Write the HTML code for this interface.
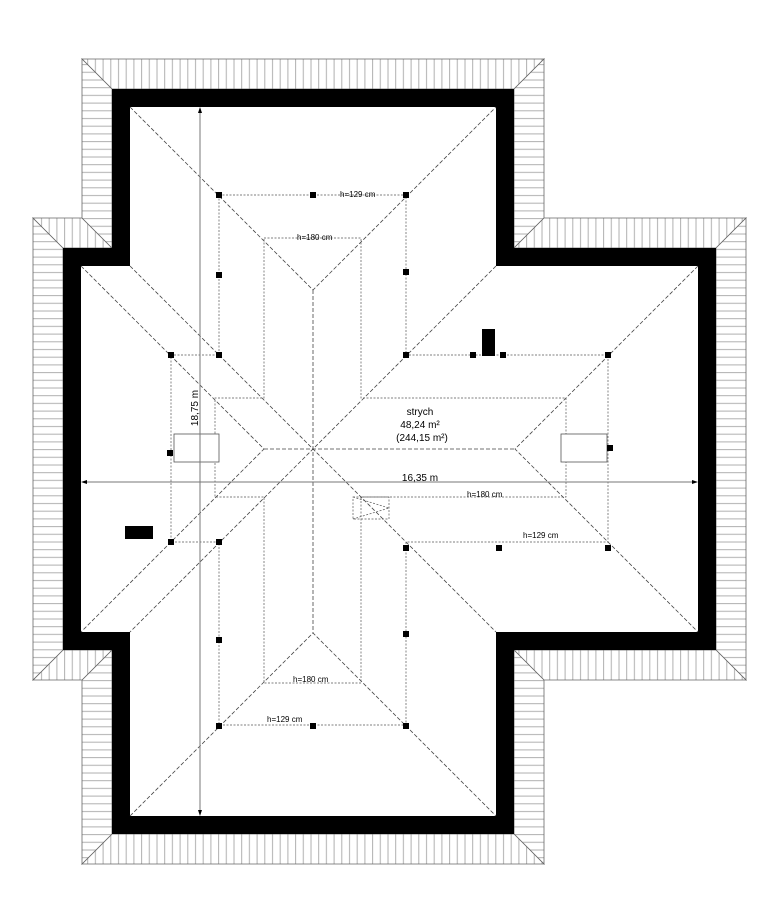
<!DOCTYPE html>
<html><head><meta charset="utf-8"><style>
html,body{margin:0;padding:0;background:#fff}
svg{display:block}
text{font-family:"Liberation Sans",sans-serif;fill:#000}
</style></head><body>
<svg width="781" height="922" viewBox="0 0 781 922" xmlns="http://www.w3.org/2000/svg">
<defs>
<pattern id="pv" width="7.7" height="10" patternUnits="userSpaceOnUse"><rect width="7.7" height="10" fill="#fff"/><line x1="3" y1="0" x2="3" y2="10" stroke="#b0b0b0" stroke-width="1"/></pattern>
<pattern id="ph" width="10" height="7.7" patternUnits="userSpaceOnUse"><rect width="10" height="7.7" fill="#fff"/><line x1="0" y1="3" x2="10" y2="3" stroke="#b0b0b0" stroke-width="1"/></pattern>
</defs>
<g stroke="#666" stroke-width="0.8">
<polygon fill="url(#pv)" points="82,59 544,59 514,89 112,89"/>
<polygon fill="url(#ph)" points="544,59 544,218 514,248 514,89"/>
<polygon fill="url(#pv)" points="544,218 746,218 716,248 514,248"/>
<polygon fill="url(#ph)" points="746,218 746,680 716,650 716,248"/>
<polygon fill="url(#pv)" points="716,650 746,680 544,680 514,650"/>
<polygon fill="url(#ph)" points="514,650 544,680 544,864 514,834"/>
<polygon fill="url(#pv)" points="514,834 544,864 82,864 112,834"/>
<polygon fill="url(#ph)" points="112,834 82,864 82,680 112,650"/>
<polygon fill="url(#pv)" points="112,650 82,680 33,680 63,650"/>
<polygon fill="url(#ph)" points="63,650 33,680 33,218 63,248"/>
<polygon fill="url(#pv)" points="63,248 33,218 82,218 112,248"/>
<polygon fill="url(#ph)" points="112,248 82,218 82,59 112,89"/>
</g>
<polygon fill="#000" points="112,89 514,89 514,248 716,248 716,650 514,650 514,834 112,834 112,650 63,650 63,248 112,248"/>
<polygon fill="#fff" points="130,107 496,107 496,266 698,266 698,632 496,632 496,816 130,816 130,632 81,632 81,266 130,266"/>
<g stroke="#444" stroke-width="0.8" fill="none" stroke-dasharray="4,2">
<polyline points="130,107 313,290 496,107"/>
<polyline points="81,266 264,449 81,632"/>
<polyline points="698,266 515,449 698,632"/>
<polyline points="130,816 313,633 496,816"/>
<line x1="130" y1="266" x2="496" y2="632"/>
<line x1="496" y1="266" x2="130" y2="632"/>
<line x1="264" y1="449" x2="515" y2="449"/>
<line x1="313" y1="290" x2="313" y2="633"/>
</g>
<g stroke="#555" stroke-width="0.7" fill="none" stroke-dasharray="2,1.5">
<polygon points="219,195 406,195 406,355 608,355 608,542 406,542 406,725 219,725 219,542 171,542 171,355 219,355"/>
<polygon points="264,238 361,238 361,398 566,398 566,497 361,497 361,683 264,683 264,497 215,497 215,398 264,398"/>
<rect x="353" y="497" width="36" height="22"/>
<polyline points="353,497 389,508 353,519"/>
</g>
<g stroke="#555" stroke-width="0.8" fill="#fff">
<rect x="174" y="434" width="45" height="28"/>
<rect x="561" y="434" width="46" height="28"/>
</g>
<g stroke="#777" stroke-width="1" fill="none">
<line x1="200" y1="109" x2="200" y2="814"/>
<line x1="83" y1="482" x2="696" y2="482"/>
</g>
<g fill="#000">
<polygon points="200,107 198,113 202,113"/><polygon points="200,816 198,810 202,810"/>
<polygon points="81,482 87,480 87,484"/><polygon points="698,482 692,480 692,484"/>
<rect x="482" y="329" width="13" height="27"/>
<rect x="125" y="526" width="28" height="13"/>
<g>
<rect x="216" y="192" width="6" height="6"/><rect x="310" y="192" width="6" height="6"/><rect x="403" y="192" width="6" height="6"/>
<rect x="216" y="272" width="6" height="6"/><rect x="403" y="269" width="6" height="6"/>
<rect x="168" y="352" width="6" height="6"/><rect x="216" y="352" width="6" height="6"/><rect x="403" y="352" width="6" height="6"/>
<rect x="470" y="352" width="6" height="6"/><rect x="500" y="352" width="6" height="6"/><rect x="605" y="352" width="6" height="6"/>
<rect x="167" y="450" width="6" height="6"/><rect x="607" y="445" width="6" height="6"/>
<rect x="168" y="539" width="6" height="6"/><rect x="216" y="539" width="6" height="6"/>
<rect x="403" y="545" width="6" height="6"/><rect x="496" y="545" width="6" height="6"/><rect x="605" y="545" width="6" height="6"/>
<rect x="216" y="637" width="6" height="6"/><rect x="403" y="631" width="6" height="6"/>
<rect x="216" y="723" width="6" height="6"/><rect x="310" y="723" width="6" height="6"/><rect x="403" y="723" width="6" height="6"/>
</g>
</g>
<g font-size="8">
<text x="340" y="197">h=129 cm</text>
<text x="297" y="240">h=180 cm</text>
<text x="467" y="497">h=180 cm</text>
<text x="523" y="538">h=129 cm</text>
<text x="293" y="682">h=180 cm</text>
<text x="267" y="722">h=129 cm</text>
</g>
<g font-size="10" text-anchor="middle">
<text x="420" y="415">strych</text>
<text x="420" y="428">48,24 m²</text>
<text x="422" y="441">(244,15 m²)</text>
<text x="420" y="481">16,35 m</text>
<text x="0" y="0" transform="translate(198,408) rotate(-90)">18,75 m</text>
</g>
</svg>
</body></html>
